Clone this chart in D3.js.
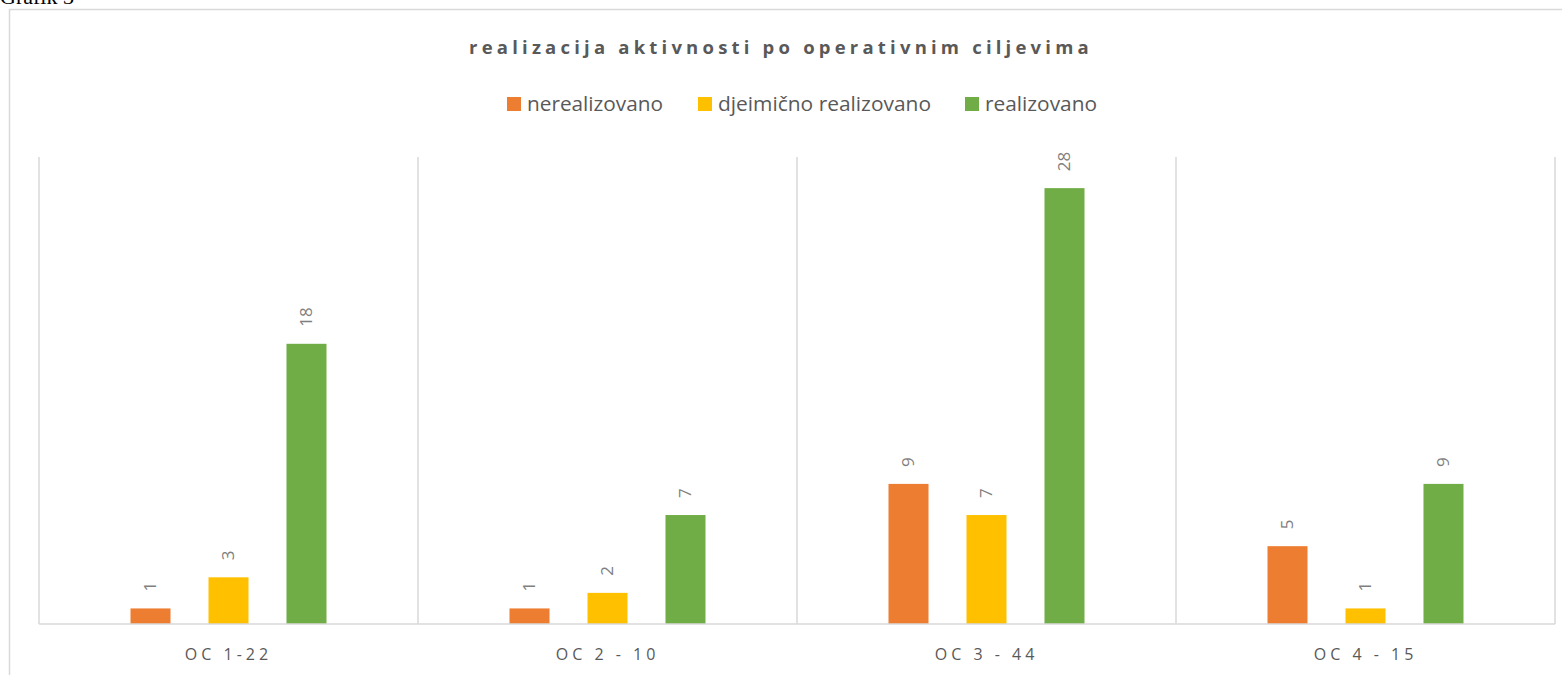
<!DOCTYPE html>
<html>
<head>
<meta charset="utf-8">
<script src="https://cdn.jsdelivr.net/npm/d3@7"></script>
<style>
  body { margin: 0; background: #fff; }
  svg { display: block; }
</style>
</head>
<body>
<svg id="chart" width="1562" height="675"></svg>
<script>
// Data
var categories = ["OC 1-22", "OC 2 - 10", "OC 3 - 44", "OC 4 - 15"];
var seriesNames = ["nerealizovano", "djeimično realizovano", "realizovano"];
var nerealizovano = [1, 1, 9, 5];
var djelimicno = [3, 2, 7, 1];
var realizovano = [18, 7, 28, 9];
var colors = ["#ED7D31", "#FFC000", "#70AD47"];

var seriesValues = [nerealizovano, djelimicno, realizovano];

// SVG Variables
var WIDTH = 1562;
var HEIGHT = 675;
var margin = {top: 157, right: 7, bottom: 51, left: 39};

var svg = d3.select("#chart");

// caption above the chart box (cut off in the original)
svg.append("text").text("Grafik 3")
    .attr("x", 0).attr("y", 4)
    .attr("font-family", "Liberation Serif, Times New Roman, serif")
    .attr("font-size", "22px")
    .attr("fill", "#000");

// chart box
svg.append("rect")
    .attr("x", 9.5).attr("y", 9.5)
    .attr("width", 1570).attr("height", 700)
    .attr("fill", "none")
    .attr("stroke", "#d9d9d9")
    .attr("stroke-width", 1.5);

// Title
svg.append("text").text("realizacija aktivnosti po operativnim ciljevima")
    .attr("x", 781).attr("y", 54)
    .attr("text-anchor", "middle")
    .attr("font-family", "Open Sans, sans-serif")
    .attr("font-weight", "bold")
    .attr("font-size", "18.5px")
    .attr("letter-spacing", "4.2px")
    .attr("fill", "#595959");

// Legend
var legendX = [507, 698, 965];
var legendW = [136, 213, 112];
var legend = svg.append("g");
seriesNames.forEach(function(name, i) {
    legend.append("rect")
        .attr("x", legendX[i]).attr("y", 97)
        .attr("width", 14).attr("height", 14)
        .attr("fill", colors[i]);
    legend.append("text").text(name)
        .attr("x", legendX[i] + 20).attr("y", 111)
        .attr("font-family", "Open Sans, sans-serif")
        .attr("font-size", "20px")
        .attr("textLength", legendW[i])
        .attr("lengthAdjust", "spacingAndGlyphs")
        .attr("fill", "#595959");
});

// Scales
var plotW = WIDTH - margin.left - margin.right;
var plotH = HEIGHT - margin.top - margin.bottom;
var x0 = d3.scaleBand().domain(categories).range([margin.left, margin.left + plotW]);
var cw = x0.bandwidth();
var x1 = d3.scaleBand().domain(d3.range(seriesNames.length))
    .range([cw / 2 - 98, cw / 2 + 98]).paddingInner(0.487).paddingOuter(0);
var y = d3.scaleLinear().domain([0, 30]).range([margin.top + plotH, margin.top]);

// vertical gridlines between categories
var edges = categories.map(function(c) { return x0(c); }).concat([margin.left + plotW]);
svg.append("g").selectAll("line").data(edges).enter().append("line")
    .attr("x1", function(d) { return d; })
    .attr("x2", function(d) { return d; })
    .attr("y1", y(30)).attr("y2", y(0))
    .attr("stroke", "#d9d9d9").attr("stroke-width", 1.5);

// bars
var groups = svg.append("g").selectAll("g").data(categories).enter().append("g")
    .attr("transform", function(c) { return "translate(" + x0(c) + ",0)"; });

groups.selectAll("rect").data(function(c, ci) {
        return seriesValues.map(function(s, si) { return {s: si, v: s[ci]}; });
    }).enter().append("rect")
    .attr("x", function(d) { return x1(d.s); })
    .attr("width", x1.bandwidth())
    .attr("y", function(d) { return y(d.v); })
    .attr("height", function(d) { return y(0) - y(d.v); })
    .attr("fill", function(d) { return colors[d.s]; });

// data labels (rotated)
groups.selectAll("text").data(function(c, ci) {
        return seriesValues.map(function(s, si) { return {s: si, v: s[ci]}; });
    }).enter().append("text")
    .text(function(d) { return d.v; })
    .attr("transform", function(d) {
        return "translate(" + (x1(d.s) + x1.bandwidth() / 2) + "," + (y(d.v) - 17) + ") rotate(-90)";
    })
    .attr("dy", "0.35em")
    .attr("font-family", "Open Sans, sans-serif")
    .attr("font-size", "17px")
    .attr("fill", "#7f7f7f");

// x axis line
svg.append("line")
    .attr("x1", margin.left).attr("x2", margin.left + plotW)
    .attr("y1", y(0)).attr("y2", y(0))
    .attr("stroke", "#d9d9d9").attr("stroke-width", 1.5);

// category labels
svg.append("g").selectAll("text").data(categories).enter().append("text")
    .text(function(c) { return c; })
    .attr("x", function(c) { return x0(c) + x0.bandwidth() / 2; })
    .attr("y", 660)
    .attr("text-anchor", "middle")
    .attr("font-family", "Open Sans, sans-serif")
    .attr("font-size", "16px")
    .attr("letter-spacing", "4px")
    .attr("fill", "#595959");
</script>
</body>
</html>
